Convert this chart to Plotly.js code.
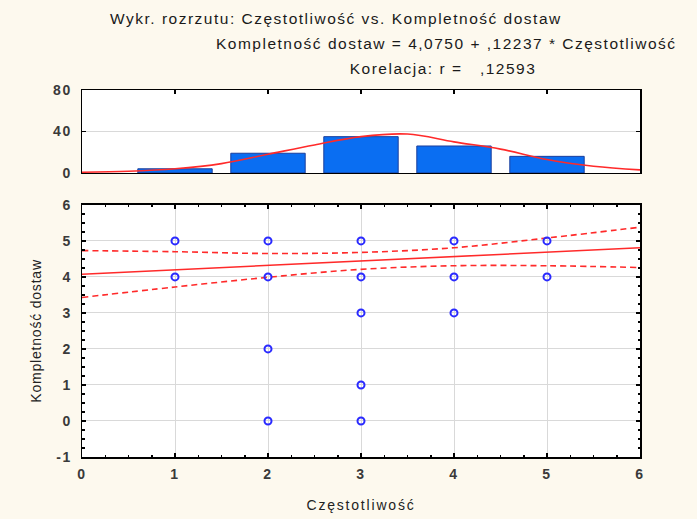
<!DOCTYPE html>
<html>
<head>
<meta charset="utf-8">
<script src="https://cdn.plot.ly/plotly-3.0.1.min.js"></script>
<style>
html,body{margin:0;padding:0;background:#fdf9ee;}
#chart{width:697px;height:519px;}
#chart .annotation-text{letter-spacing:1.5px;}
#chart .xtick text, #chart .ytick text, #chart .y2tick text{letter-spacing:1.5px;}
#chart .g-xtitle text{letter-spacing:1.8px;}
#chart .g-ytitle text{letter-spacing:0.8px;}
</style>
</head>
<body>
<div id="chart"></div>
<script>
// Scatter data
const freqX = [1, 1, 2, 2, 2, 2, 3, 3, 3, 3, 3, 4, 4, 4, 5, 5];
const complY = [5, 4, 5, 4, 2, 0, 5, 4, 3, 1, 0, 5, 4, 3, 5, 4];

// Histogram of Częstotliwość
const histX = [1, 2, 3, 4, 5];
const histCounts = [4, 19, 35, 26, 16];

// Fitted normal curve
const normX = [0, 0.5, 1, 1.5, 2, 2.5, 3, 3.5, 4, 4.5, 5, 5.5, 6];
const normY = [0.7, 1.6, 4, 9, 18, 27, 35, 37.5, 30, 23, 13, 6.5, 3];

// Regression line and 95% confidence bands
const regX = [0, 6];
const regY = [4.075, 4.809];
const bandX = [0, 1, 2, 3, 4, 5, 6];
const bandUpper = [4.73, 4.70, 4.65, 4.68, 4.81, 5.08, 5.38];
const bandLower = [3.43, 3.72, 3.99, 4.21, 4.31, 4.31, 4.26];

// Tick labels
const xTicks = [0, 1, 2, 3, 4, 5, 6];
const yTicks = [-1, 0, 1, 2, 3, 4, 5, 6];
const histYTicks = [0, 40, 80];

const red = '#ff2a2a';
const tickFont = {family: 'Arial, "Liberation Sans", sans-serif', size: 14, color: '#3a3a3a', weight: 'bold'};

const traces = [
  {type: 'bar', x: histX, y: histCounts, xaxis: 'x2', yaxis: 'y2', width: 0.8,
   marker: {color: '#0a6ef2', line: {color: '#1b3f9c', width: 1}}, hoverinfo: 'skip'},
  {type: 'scatter', mode: 'lines', x: normX, y: normY, xaxis: 'x2', yaxis: 'y2',
   line: {color: red, width: 1.6, shape: 'spline'}},
  {type: 'scatter', mode: 'lines', x: bandX, y: bandUpper,
   line: {color: red, width: 1.6, dash: '6px,4px', shape: 'spline'}},
  {type: 'scatter', mode: 'lines', x: bandX, y: bandLower,
   line: {color: red, width: 1.6, dash: '6px,4px', shape: 'spline'}},
  {type: 'scatter', mode: 'lines', x: regX, y: regY,
   line: {color: red, width: 1.6}},
  {type: 'scatter', mode: 'markers', x: freqX, y: complY,
   marker: {symbol: 'circle-open', size: 7, color: '#2a2aff', line: {width: 2, color: '#2a2aff'}}}
];

const gridColor = '#d9d9d9';
const layout = {
  width: 697, height: 519,
  paper_bgcolor: '#fdf9ee', plot_bgcolor: '#ffffff',
  showlegend: false,
  margin: {l: 82, r: 57, t: 90, b: 62},
  font: {family: 'Arial, "Liberation Sans", sans-serif', color: '#222'},
  xaxis: {
    domain: [0, 1], anchor: 'y', range: [0, 6],
    tickvals: xTicks, ticktext: xTicks.map(String),
    tickfont: tickFont, ticks: 'inside', ticklen: 4, tickcolor: '#000', tickwidth: 1.5,
    ticklabelstandoff: 4,
    showline: true, linecolor: '#000', linewidth: 1.5, mirror: 'allticks',
    showgrid: true, gridcolor: gridColor, gridwidth: 1, zeroline: false,
    minor: {dtick: 0.25, ticks: 'inside', ticklen: 2.5, tickcolor: '#000', showgrid: false},
    title: {text: 'Częstotliwość', font: {size: 14, color: '#222'}, standoff: 19}
  },
  yaxis: {
    domain: [0, 0.687], anchor: 'x', range: [-1, 6],
    tickvals: yTicks, ticktext: yTicks.map(String),
    tickfont: tickFont, ticks: 'inside', ticklen: 4, tickcolor: '#000', tickwidth: 1.5,
    ticklabelstandoff: 6,
    showline: true, linecolor: '#000', linewidth: 1.5, mirror: 'allticks',
    showgrid: true, gridcolor: gridColor, gridwidth: 1, zeroline: false,
    minor: {dtick: 0.25, ticks: 'inside', ticklen: 2.5, tickcolor: '#000', showgrid: false},
    title: {text: 'Kompletność dostaw', font: {size: 14, color: '#222'}, standoff: 14}
  },
  xaxis2: {
    domain: [0, 1], anchor: 'y2', range: [0, 6], side: 'top',
    tickvals: [1, 2, 3, 4, 5], showticklabels: false,
    ticks: 'inside', ticklen: 4, tickcolor: '#000', tickwidth: 1.5,
    showline: true, linecolor: '#000', linewidth: 1.5, mirror: true,
    showgrid: false, zeroline: false
  },
  yaxis2: {
    domain: [0.774, 1], anchor: 'x2', range: [0, 80],
    tickvals: histYTicks, ticktext: histYTicks.map(String),
    tickfont: tickFont, ticks: 'inside', ticklen: 4, tickcolor: '#000', tickwidth: 1.5,
    ticklabelstandoff: 6,
    showline: true, linecolor: '#000', linewidth: 1.5, mirror: 'ticks',
    showgrid: true, gridcolor: gridColor, gridwidth: 1, zeroline: false
  },
  annotations: [
    {text: 'Wykr. rozrzutu: Częstotliwość vs. Kompletność dostaw', xref: 'paper', yref: 'paper',
     x: (336 - 82) / 558, y: 1 + (90 - 18) / 367, xanchor: 'center', yanchor: 'middle', showarrow: false,
     font: {size: 15.5, color: '#1a1a1a'}},
    {text: 'Kompletność dostaw = 4,0750 + ,12237 * Częstotliwość', xref: 'paper', yref: 'paper',
     x: (446 - 82) / 558, y: 1 + (90 - 44) / 367, xanchor: 'center', yanchor: 'middle', showarrow: false,
     font: {size: 15.5, color: '#1a1a1a'}},
    {text: 'Korelacja: r =   ,12593', xref: 'paper', yref: 'paper',
     x: (443 - 82) / 558, y: 1 + (90 - 69) / 367, xanchor: 'center', yanchor: 'middle', showarrow: false,
     font: {size: 15.5, color: '#1a1a1a'}}
  ]
};

Plotly.newPlot('chart', traces, layout, {displayModeBar: false, staticPlot: true});
</script>
</body>
</html>
